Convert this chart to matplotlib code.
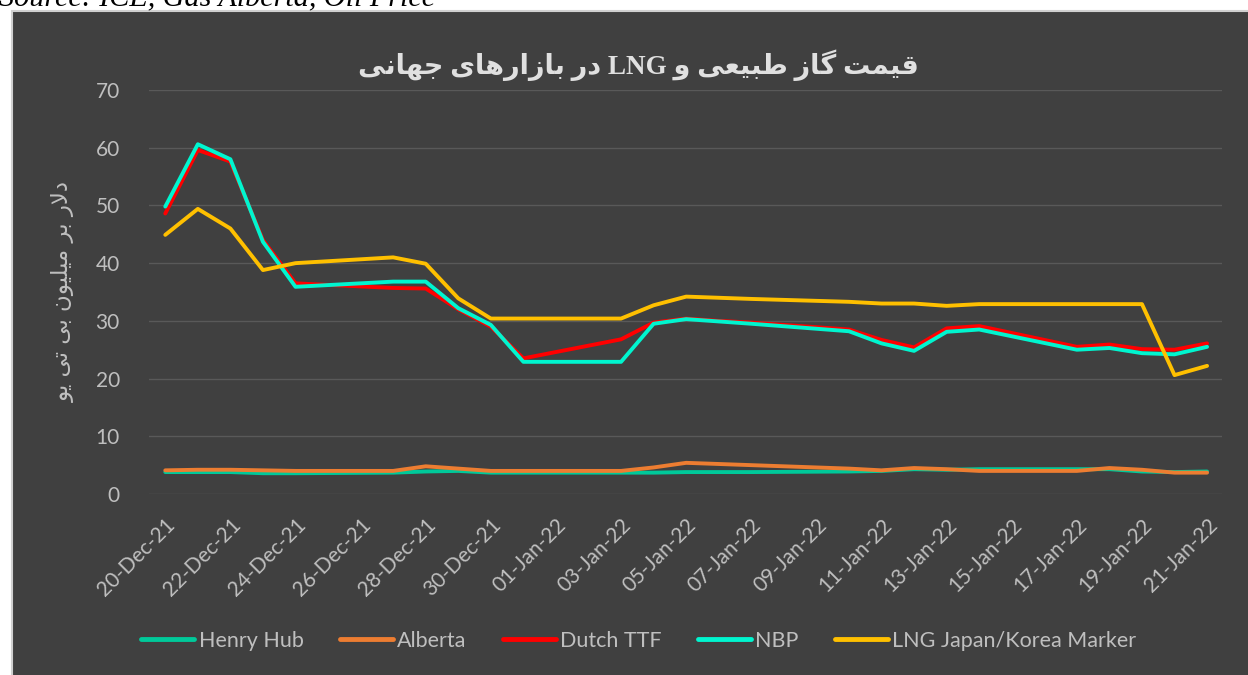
import matplotlib
matplotlib.use("Agg")
import matplotlib.pyplot as plt
import matplotlib.dates as mdates
from matplotlib.patches import Rectangle
import pandas as pd

# ---- data ----
dates = ["2021-12-20", "2021-12-21", "2021-12-22", "2021-12-23", "2021-12-24",
         "2021-12-27", "2021-12-28", "2021-12-29", "2021-12-30", "2021-12-31",
         "2022-01-03", "2022-01-04", "2022-01-05", "2022-01-06", "2022-01-07",
         "2022-01-10", "2022-01-11", "2022-01-12", "2022-01-13", "2022-01-14",
         "2022-01-17", "2022-01-18", "2022-01-19", "2022-01-20", "2022-01-21"]
henry_hub = [3.8, 3.8, 3.8, 3.6, 3.6, 3.7, 3.9, 4.0, 3.7, 3.7,
             3.7, 3.7, 3.8, 3.8, 3.8, 3.9, 4.0, 4.3, 4.2, 4.3,
             4.3, 4.3, 3.9, 3.8, 3.9]
alberta = [4.1, 4.2, 4.2, 4.1, 4.0, 4.0, 4.8, 4.4, 4.0, 4.0,
           4.0, 4.6, 5.4, 5.2, 5.0, 4.4, 4.1, 4.5, 4.3, 4.0,
           4.0, 4.5, 4.2, 3.7, 3.7]
dutch_ttf = [48.6, 59.6, 57.6, 44.0, 36.5, 35.7, 35.6, 32.0, 29.0, 23.5,
             26.8, 29.7, 30.4, 30.0, 29.7, 28.5, 26.7, 25.4, 28.7, 29.1,
             25.5, 25.9, 25.1, 25.0, 26.1]
nbp = [49.8, 60.6, 58.0, 43.7, 35.9, 36.8, 36.8, 32.2, 29.3, 22.9,
       22.9, 29.5, 30.3, 29.9, 29.5, 28.2, 26.1, 24.8, 28.1, 28.5,
       25.0, 25.3, 24.4, 24.2, 25.5]
lng_jkm = [44.9, 49.4, 46.0, 38.8, 40.0, 41.0, 39.9, 33.9, 30.4, 30.4,
           30.4, 32.7, 34.2, 34.0, 33.8, 33.3, 33.0, 33.0, 32.6, 32.9,
           32.9, 32.9, 32.9, 20.6, 22.2]

series_names = ["Henry Hub", "Alberta", "Dutch TTF", "NBP", "LNG Japan/Korea Marker"]
series_colors = ["#00C99A", "#ED7D31", "#FF0000", "#00F5CF", "#FFC000"]

title_fa = "قیمت گاز طبیعی و LNG در بازارهای جهانی"
ylabel_fa = "دلار بر میلیون بی تی یو"
source_txt = "Source: ICE, Gas Alberta, Oil Price"

# ---- tiny arabic/persian shaper (matplotlib has no shaping / bidi) ----
FORMS = {  # isolated, final, initial, medial
    "ا": ("\uFE8D", "\uFE8E", None, None),
    "د": ("\uFEA9", "\uFEAA", None, None),
    "ر": ("\uFEAD", "\uFEAE", None, None),
    "ز": ("\uFEAF", "\uFEB0", None, None),
    "و": ("\uFEED", "\uFEEE", None, None),
    "ب": ("\uFE8F", "\uFE90", "\uFE91", "\uFE92"),
    "ت": ("\uFE95", "\uFE96", "\uFE97", "\uFE98"),
    "ج": ("\uFE9D", "\uFE9E", "\uFE9F", "\uFEA0"),
    "ط": ("\uFEC1", "\uFEC2", "\uFEC3", "\uFEC4"),
    "ع": ("\uFEC9", "\uFECA", "\uFECB", "\uFECC"),
    "ق": ("\uFED5", "\uFED6", "\uFED7", "\uFED8"),
    "ل": ("\uFEDD", "\uFEDE", "\uFEDF", "\uFEE0"),
    "م": ("\uFEE1", "\uFEE2", "\uFEE3", "\uFEE4"),
    "ن": ("\uFEE5", "\uFEE6", "\uFEE7", "\uFEE8"),
    "ه": ("\uFEE9", "\uFEEA", "\uFEEB", "\uFEEC"),
    "ی": ("\uFBFC", "\uFBFD", "\uFBFE", "\uFBFF"),
    "گ": ("\uFB92", "\uFB93", "\uFB94", "\uFB95"),
}


def joins_next(ch):
    return ch in FORMS and FORMS[ch][2] is not None


def shape(txt):
    out = []
    i = 0
    while i < len(txt):
        c = txt[i]
        if c not in FORMS:
            out.append(c)
            i += 1
            continue
        prev_j = i > 0 and joins_next(txt[i - 1])
        nxt = txt[i + 1] if i + 1 < len(txt) else ""
        if c == "ل" and nxt == "ا":
            out.append("\uFEFC" if prev_j else "\uFEFB")
            i += 2
            continue
        next_j = joins_next(c) and nxt in FORMS
        iso, fin, ini, med = FORMS[c]
        if prev_j and next_j:
            out.append(med)
        elif prev_j:
            out.append(fin)
        elif next_j:
            out.append(ini)
        else:
            out.append(iso)
        i += 1
    return "".join(out)


def visual(txt):
    s = shape(txt)
    runs, cur, cur_latin = [], "", None
    for ch in s:
        latin = ch.isascii() and ch != " "
        if ch == " ":
            latin = False
        if cur_latin is None or latin == cur_latin:
            cur += ch
        else:
            runs.append((cur, cur_latin))
            cur = ch
        cur_latin = latin
    runs.append((cur, cur_latin))
    return "".join(r if lat else r[::-1] for r, lat in reversed(runs))


# ---- figure ----
bg = "#404040"
txt_col = "#BFBFBF"
fig = plt.figure(figsize=(12.48, 6.75), dpi=100, facecolor="white")
panel = Rectangle((12 / 1248, -0.01), 1.0, (675 - 11) / 675 + 0.01,
                  transform=fig.transFigure, facecolor=bg,
                  edgecolor="#D0D0D0", linewidth=1.5, zorder=-10)
fig.add_artist(panel)

fig.text(-0.001, 1 - 5 / 675, source_txt, family="Liberation Serif", style="italic",
         fontsize=21.7, color="black", va="baseline", ha="left")

ax = fig.add_axes([149 / 1248, 1 - 494 / 675, (1222 - 149) / 1248, (494 - 90) / 675])
ax.set_facecolor("none")
ax.set_zorder(2)

x = pd.to_datetime(dates)
all_series = [henry_hub, alberta, dutch_ttf, nbp, lng_jkm]
for vals, name, col in zip(all_series, series_names, series_colors):
    ax.plot(x, vals, color=col, linewidth=2.8, label=name, solid_capstyle="round",
            solid_joinstyle="round")

ax.set_ylim(0, 70)
ax.set_yticks(range(0, 71, 10))
ax.set_xlim(pd.Timestamp("2021-12-20") - pd.Timedelta(hours=12),
            pd.Timestamp("2022-01-21") + pd.Timedelta(hours=11))
ax.set_xticks(pd.date_range("2021-12-20", "2022-01-21", freq="2D"))
ax.xaxis.set_major_formatter(mdates.DateFormatter("%d-%b-%y"))

ax.grid(axis="y", color="#595959", linewidth=1.0)
ax.set_axisbelow(True)
for sp in ax.spines.values():
    sp.set_visible(False)
ax.tick_params(axis="both", length=0, colors=txt_col, labelsize=15)
ax.tick_params(axis="y", pad=21)
ax.tick_params(axis="x", pad=15)
for lab in ax.get_yticklabels():
    lab.set_family("Lato")
for lab in ax.get_xticklabels():
    lab.set_family("Lato")
    lab.set_rotation(45)
    lab.set_ha("right")
    lab.set_rotation_mode("anchor")

fig.text(638 / 1248, 1 - 65 / 675, visual(title_fa), family=["Liberation Serif", "DejaVu Sans"],
         fontsize=19.5, fontweight="bold", color="#E0E0E0", ha="center", va="center")
fig.text(63 / 1248, 1 - 291 / 675, visual(ylabel_fa), family="DejaVu Sans",
         fontsize=16.5, color=txt_col, rotation=90, ha="center", va="center")

leg = fig.legend(loc="center", bbox_to_anchor=(639 / 1248, 1 - 641 / 675), ncol=5,
                 frameon=False, handlelength=2.45, handletextpad=0.2, columnspacing=1.7,
                 prop={"family": "Lato", "size": 15.5})
for t in leg.get_texts():
    t.set_color(txt_col)
for h in leg.get_lines():
    h.set_linewidth(3.5)

fig.savefig("out.png", dpi=100, facecolor="white")
